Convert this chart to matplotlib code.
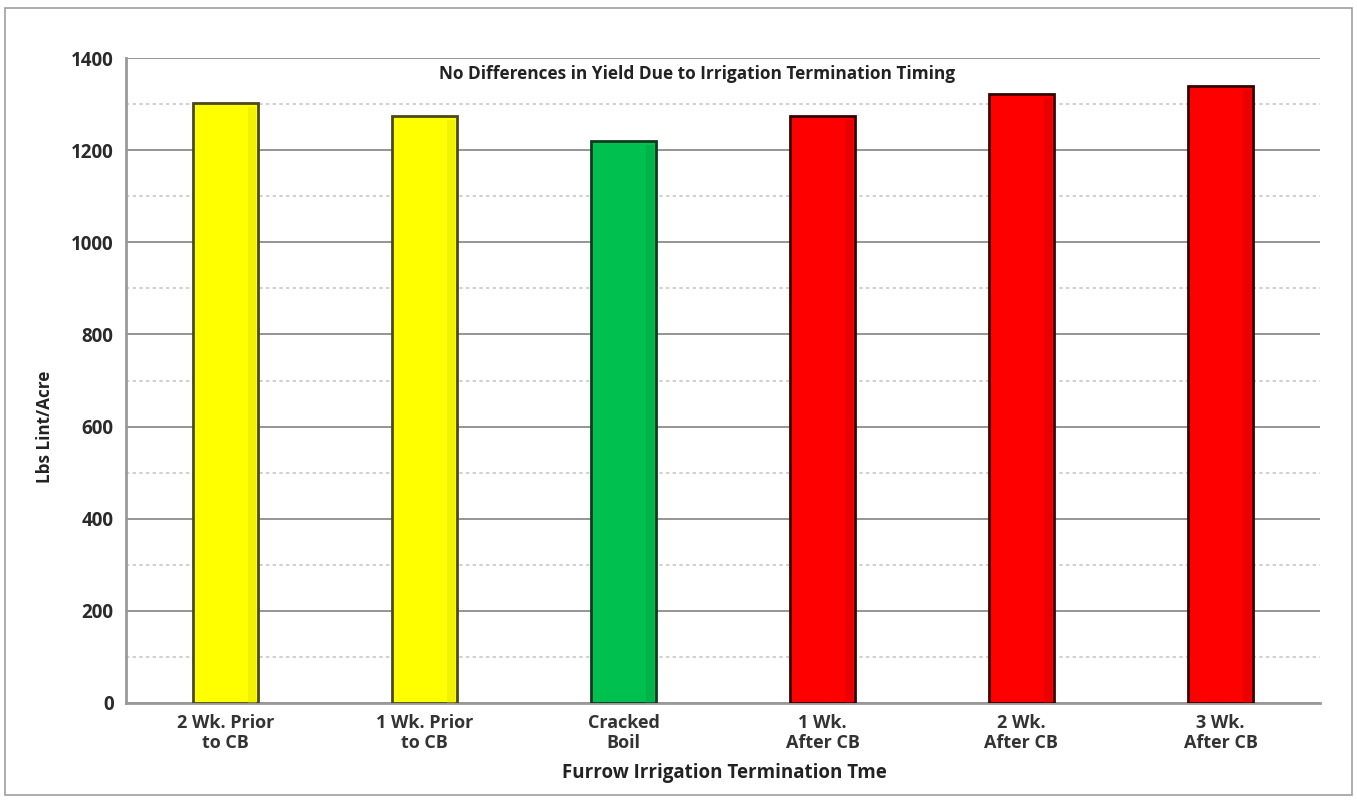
import matplotlib
matplotlib.use("Agg")
import matplotlib.pyplot as plt
from matplotlib.patches import Rectangle
from matplotlib.ticker import MultipleLocator

plt.rcParams["font.family"] = ["Open Sans", "DejaVu Sans"]

categories = ["2 Wk. Prior\nto CB", "1 Wk. Prior\nto CB", "Cracked\nBoil",
              "1 Wk.\nAfter CB", "2 Wk.\nAfter CB", "3 Wk.\nAfter CB"]
yields = [1302, 1274, 1220, 1274, 1322, 1340]
fill_colors = ["#FFFF00", "#FFFF00", "#00C050", "#FF0000", "#FF0000", "#FF0000"]
edge_colors = ["#4A4A1A", "#4A4A1A", "#0F3A1E", "#3A0000", "#3A0000", "#3A0000"]
shade_colors = ["#D8D800", "#D8D800", "#00A040", "#C80000", "#C80000", "#C80000"]

title = "No Differences in Yield Due to Irrigation Termination Timing"
xlabel = "Furrow Irrigation Termination Tme"
ylabel = "Lbs Lint/Acre"

W, H = 1357, 800
fig = plt.figure(figsize=(W / 100, H / 100), dpi=100)
fig.patch.set_facecolor("white")

# outer frame around the whole chart
fig.add_artist(Rectangle((5 / W, 5 / H), 1347 / W, 787 / H, transform=fig.transFigure,
                         fill=False, edgecolor="#A0A0A0", linewidth=1.2))

ax = fig.add_axes([126 / W, 1 - 703 / H, (1320 - 126) / W, (703 - 58) / H])
x = list(range(len(categories)))
bar_w = 0.33
ax.bar(x, yields, width=bar_w, color=fill_colors, edgecolor=edge_colors,
       linewidth=2.0, zorder=3)

# faint shading along the right edge of each bar
for xi, v, sc in zip(x, yields, shade_colors):
    ax.bar(xi + bar_w * 0.40, v - 8, width=bar_w * 0.12, bottom=0, color=sc,
           edgecolor="none", alpha=0.35, zorder=3.5)

ax.set_xlim(-0.5, len(categories) - 0.5)
ax.set_ylim(0, 1400)
ax.yaxis.set_major_locator(MultipleLocator(200))
ax.yaxis.set_minor_locator(MultipleLocator(100))
ax.grid(axis="y", which="major", color="#8C8C8C", linewidth=1.3, zorder=0)
ax.grid(axis="y", which="minor", color="#C8C8C8", linewidth=1.2, linestyle=(0, (2, 2)), zorder=0)
ax.set_axisbelow(True)

for side in ["top", "right"]:
    ax.spines[side].set_visible(False)
for side in ["left", "bottom"]:
    ax.spines[side].set_color("#999999")
    ax.spines[side].set_linewidth(2.0)

ax.set_xticks(x)
ax.set_xticklabels(categories, fontsize=13, fontweight="bold", color="#333333",
                   linespacing=1.15)
ax.tick_params(axis="both", which="both", length=0)
ax.tick_params(axis="x", pad=8)
ax.tick_params(axis="y", pad=9)
for lbl in ax.get_yticklabels():
    lbl.set_fontsize(13.5)
    lbl.set_fontweight("bold")
    lbl.set_color("#2A2A2A")

fig.text(697 / W, 1 - 74 / H, title, ha="center", va="center", fontsize=12.4,
         fontweight="bold", color="#222222")
fig.text(724 / W, 1 - 773 / H, xlabel, ha="center", va="center", fontsize=13.5,
         fontweight="bold", color="#222222")
fig.text(45 / W, 1 - 427 / H, ylabel, ha="center", va="center", rotation=90,
         fontsize=12.3, fontweight="bold", color="#222222")

fig.savefig("out.png", dpi=100, facecolor="white")
